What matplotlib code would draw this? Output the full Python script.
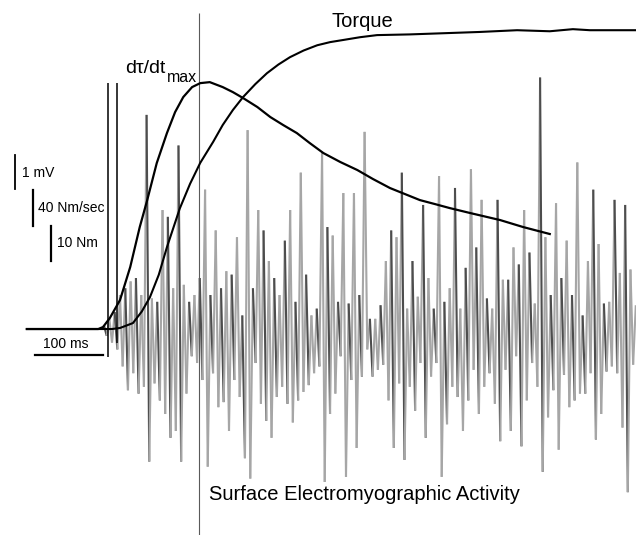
import numpy as np
import matplotlib.pyplot as plt
from matplotlib.collections import LineCollection

plt.rcParams['font.family'] = ['Liberation Sans', 'DejaVu Sans']

# torque (Nm) vs time (ms), onset at t = 0
torque_t = [-112, 0, 13, 25, 44, 57, 69, 82, 94, 113, 128, 143, 162, 176, 191,
            206, 224, 241, 258, 275, 295, 315, 334, 353, 378, 403, 451, 510,
            554, 609, 657, 691, 716, 784]
torque_nm = [0, 0, 0, 0.3, 1.7, 5.0, 9.1, 15.5, 23.4, 34.5, 41.5, 47.5, 53.5,
             58.3, 62.6, 66.3, 70.0, 73.1, 75.6, 77.7, 79.6, 81.1, 82.0, 82.6,
             83.4, 84.0, 84.2, 84.6, 84.9, 85.4, 85.1, 85.7, 85.4, 85.4]

# rate of torque development (Nm/sec)
dtdt_t = [-112, -7, 0, 10, 25, 40, 54, 65, 79, 94, 106, 118, 131, 143, 157,
          176, 191, 206, 227, 246, 265, 285, 304, 324, 349, 374, 397, 422,
          444, 466, 488, 510, 540, 584, 618, 657]
dtdt_nms = [0, 0, 2.2, 12.2, 32.2, 68.9, 113.3, 143.3, 184.4, 217.8, 241.1,
            257.8, 268.9, 273.3, 274.4, 268.9, 263.3, 256.7, 246.7, 235.6,
            226.7, 217.8, 206.7, 195.6, 185.6, 176.7, 166.7, 156.7, 150.0,
            143.3, 138.9, 134.4, 128.9, 121.1, 113.3, 105.6]

# surface EMG peaks (mV), sampled every 3.91 ms from onset
emg_mv = [
    0.1, -0.2, 0.3, -0.4, 0.5, -0.6, 1.0, -1.1, 1.2, -1.8,
    1.4, -1.3, 1.5, -1.9, 1.0, -1.7, 6.3, -3.9, 0.9, -1.6,
    0.8, -2.1, 3.5, -2.5, 3.3, -3.2, 1.2, -3.0, 5.4, -3.9,
    1.3, -1.9, 0.8, -0.8, 1.0, -1.0, 1.5, -1.5, 4.1, -4.05,
    1.0, -1.3, 2.9, -2.3, 1.2, -2.15, 1.7, -3.0, 1.6, -1.5,
    2.7, -2.0, 0.4, -3.8, 5.85, -4.4, 1.2, -1.0, 3.5, -2.2,
    2.9, -2.7, 2.0, -3.2, 1.5, -2.0, 1.0, -1.7, 2.6, -2.2,
    3.5, -2.75, 0.8, -2.1, 4.6, -1.85, 1.6, -1.65, 0.4, -1.3,
    0.6, -1.1, 5.2, -4.5, 3.0, -2.5, 2.75, -1.9, 0.8, -0.8,
    4.0, -4.35, 0.75, -1.5, 4.0, -3.5, 1.0, -1.4, 5.8, -0.6,
    0.3, -1.4, 0.3, -1.2, 0.7, -1.05, 2.0, -2.1, 2.9, -3.5,
    2.7, -1.6, 4.6, -3.85, 0.6, -1.7, 2.0, -2.4, 0.95, -1.0,
    3.65, -3.2, 1.5, -1.4, 0.6, -1.0, 4.5, -4.35, 0.8, -2.8,
    1.2, -1.7, 4.15, -2.0, 0.6, -3.0, 1.8, -2.1, 4.7, -1.2,
    2.4, -2.5, 3.8, -1.7, 0.9, -1.3, 0.6, -2.2, 3.8, -3.3,
    1.45, -1.2, 1.45, -3.0, 2.4, -0.8, 1.9, -3.45, 3.5, -2.1,
    2.25, -1.0, 0.75, -1.7, 7.4, -4.2, 2.7, -2.6, 1.0, -1.8,
    3.7, -3.55, 1.5, -1.35, 2.6, -2.3, 1.0, -2.1, 4.9, -1.9,
    0.4, -1.9, 2.0, -1.3, 4.1, -3.25, 2.5, -2.5, 0.75, -1.25,
    0.8, -1.1, 3.8, -1.3, 1.65, -2.9, 3.65, -4.8, 1.75, -1.05,
    0.7,
]
emg_dt = 3.91
emg_t0 = 1.5

# event markers (ms) and their vertical extent (mV units)
marker_t = [7.4, 20.6, 141.0]
marker_top = [7.24, 7.24, 9.3]
marker_bot = [-0.82, -0.41, -6.1]

# scale bars: 35 px = 10 Nm, 36 px = 40 Nm/sec, 34 px = 1 mV
mv_per_nm = 35 / 34 / 10
mv_per_nms = 36 / 34 / 40

fig = plt.figure(figsize=(6.36, 5.35), dpi=100)
ax = fig.add_axes([0, 0, 1, 1])
ax.set_xlim(-151.5, 783.8)
ax.set_ylim(-6.06, 9.68)
ax.axis('off')

# EMG trace
t = emg_t0 + emg_dt * np.arange(len(emg_mv))
t = np.concatenate([[0], t])
v = np.concatenate([[0], emg_mv])
pts = np.column_stack([t, v])
segs = np.stack([pts[:-1], pts[1:]], axis=1)
cols = ['#4d4d4d' if k % 4 == 1 else '#a6a6a6' for k in range(len(segs))]
ax.add_collection(LineCollection(segs, colors=cols, linewidths=1.5, zorder=2))

# markers
ax.vlines(marker_t[:2], marker_bot[:2], marker_top[:2], color='black', lw=1.1, zorder=3)
ax.vlines(marker_t[2], marker_bot[2], marker_top[2], color='#5a5a5a', lw=0.8, zorder=3)

# torque and dtau/dt
ax.plot(torque_t, np.array(torque_nm) * mv_per_nm, color='black', lw=1.5, zorder=4)
ax.plot(dtdt_t, np.array(dtdt_nms) * mv_per_nms, color='black', lw=1.6, zorder=4)

# scale bars
ax.plot([-129.4, -129.4], [4.12, 4.12 + 1], color='black', lw=1.3)
ax.plot([-102.9, -102.9], [3.03, 3.03 + 40 * mv_per_nms], color='black', lw=1.6)
ax.plot([-76.5, -76.5], [2.0, 2.0 + 10 * mv_per_nm], color='black', lw=1.6)
ax.plot([-100, 0], [-0.76, -0.76], color='black', lw=1.6)

def px(x, y):
    return x / 636, 1 - y / 535

kw = dict(transform=fig.transFigure, color='black')
fig.text(*px(22, 173), '1 mV', fontsize=10, va='center', ha='left', **kw)
fig.text(*px(38, 208), '40 Nm/sec', fontsize=10, va='center', ha='left', **kw)
fig.text(*px(57, 243), '10 Nm', fontsize=10, va='center', ha='left', **kw)
fig.text(*px(66, 344), '100 ms', fontsize=10, va='center', ha='center', **kw)
fig.text(*px(332, 27), 'Torque', fontsize=14.5, va='baseline', ha='left', **kw)
fig.text(*px(125, 73), 'dτ/dt', fontsize=14, va='baseline', ha='left', **kw)
fig.text(*px(167, 82), 'max', fontsize=11.5, va='baseline', ha='left', **kw)
fig.text(*px(209, 500), 'Surface Electromyographic Activity', fontsize=14.5,
         va='baseline', ha='left', **kw)

fig.savefig('out.png', dpi=100, facecolor='white')
